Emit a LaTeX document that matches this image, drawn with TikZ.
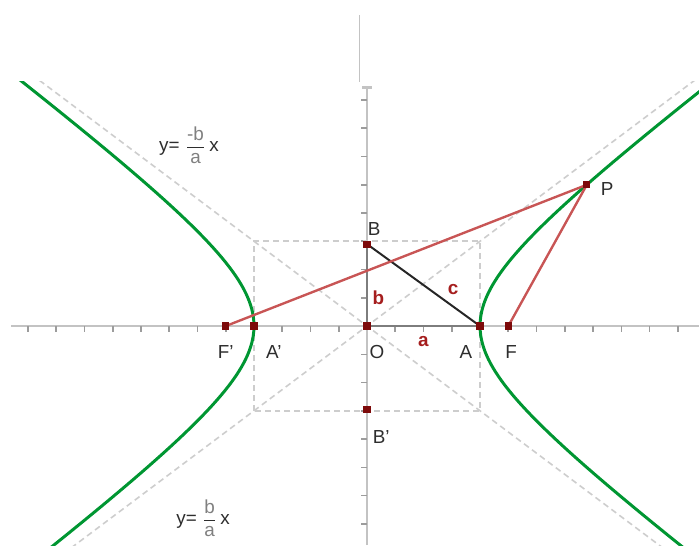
\documentclass[tikz,border=0pt]{standalone}
\usepackage{fontspec}
\setmainfont{Liberation Sans}
\usepackage{amsmath}
\usetikzlibrary{arrows.meta,backgrounds}
\definecolor{cHyp}  {RGB}{0,   150, 50}
\definecolor{cFoc}  {RGB}{200, 85,  85}
\definecolor{cPt}   {RGB}{125, 10,  10}
\definecolor{cTxtR} {RGB}{165, 30,  30}
\definecolor{cAxis} {RGB}{195, 195, 195}
\definecolor{cSeg}  {RGB}{125, 125, 125}
\definecolor{cDash} {RGB}{205, 205, 205}
\definecolor{cTxt}  {RGB}{45,  45,  45}
\tikzset{
  axis/.style  = {cAxis, line width=1.4pt},
  tick/.style  = {cAxis!80!black, line width=0.8pt},
  seg/.style   = {cSeg, line width=1.4pt},
  hyp/.style   = {cHyp, line width=1.5pt},
  foc/.style   = {cFoc, line width=1.2pt},
  hyp3/.style  = {black!85, line width=1pt},
  guide/.style = {cDash, line width=0.8pt, dash pattern=on 3pt off 2pt},
  pt/.style    = {rectangle, fill=cPt, inner sep=0pt, minimum size=3.6pt},
  lbl/.style   = {font=\fontsize{9.5}{10}\selectfont, text=cTxt, inner sep=0pt},
  lblR/.style  = {lbl, text=cTxtR},
}

\begin{document}
\begin{tikzpicture}[x=0.5cm, y=0.5cm]
\useasboundingbox (-12.99,-7.75) rectangle (11.75,11.54);

%% ─── Points ──────────────────────────────────────────────────────
\node[pt] (O)  at (0,0)     {};
\node[pt] (A)  at (4,0)     {};
\node[pt] (Ap) at (-4,0)    {};
\node[pt] (F)  at (5,0)     {};
\node[pt] (Fp) at (-5,0)    {};
\node[pt] (B)  at (0,2.9)   {};
\node[pt] (Bp) at (0,-2.95) {};
\node[pt] (P)  at (7.78,5)  {};

\begin{scope}[on background layer]
%% ─── Axes ────────────────────────────────────────────────────────
\draw[cAxis, line width=0.5pt] (-0.28,8.64) -- (-0.28,11.0);
\draw[axis] (-12.6,0) -- (11.75,0);
\draw[axis, -{Bar[width=5pt, line width=1.4pt]}] (0,-7.75) -- (0,8.5);
\foreach \i in {-12,...,-1,1,2,...,11}
  \draw[tick] (\i,0) -- (\i,-0.2);
\foreach \j in {-7,...,-1,1,2,...,8}
  \draw[tick] (0,\j) -- (-0.2,\j);

%% ─── Asymptotes, box, hyperbola (clipped) ────────────────────────
\begin{scope}
  \clip (-13,-7.75) rectangle (11.75,8.64);
  \draw[guide] (-4,-3) rectangle (4,3);
  \draw[guide] (-13,-9.75) -- (13,9.75);
  \draw[guide] (-13,9.75) -- (13,-9.75);
  \draw[hyp] plot[domain=-2:2, samples=90, variable=\t]
    ({4*cosh(\t)},{3*sinh(\t)});
  \draw[hyp] plot[domain=-2:2, samples=90, variable=\t]
    ({-4*cosh(\t)},{3*sinh(\t)});
\end{scope}

%% ─── Segments ────────────────────────────────────────────────────
\draw[seg]  (O.center) -- (A.center);
\draw[seg]  (O.center) -- (B.center);
\draw[hyp3] (B.center) -- (A.center);
\draw[foc]  (Fp.center) -- (P.center);
\draw[foc]  (F.center) -- (P.center);
\end{scope}

%% ─── Labels ──────────────────────────────────────────────────────
\node[lbl]  (tFp) at (-5.0,-0.92) {F'};
\node[lbl]  (tAp) at (-3.3,-0.92) {A'};
\node[lbl]  (tO)  at (0.35,-0.92) {O};
\node[lbl]  (tA)  at (3.5,-0.92)  {A};
\node[lbl]  (tF)  at (5.1,-0.92)  {F};
\node[lbl]  (tB)  at (0.25,3.45)  {B};
\node[lbl]  (tBp) at (0.5,-3.93)  {B'};
\node[lbl]  (tP)  at (8.5,4.85)   {P};
\node[lblR] (ta)  at (2.0,-0.55)  {\textbf{a}};
\node[lblR] (tb)  at (0.4,1.0)    {\textbf{b}};
\node[lblR] (tc)  at (3.05,1.3)   {\textbf{c}};

\node[lbl] (asU) at (-6.3,6.4)
  {y= $\dfrac{\textrm{\color{gray}-b}}{\textrm{\color{gray}a}}$\,x};
\node[lbl] (asL) at (-5.8,-6.8)
  {y= $\dfrac{\textrm{\color{gray}b}}{\textrm{\color{gray}a}}$\,x};

\end{tikzpicture}
\end{document}
